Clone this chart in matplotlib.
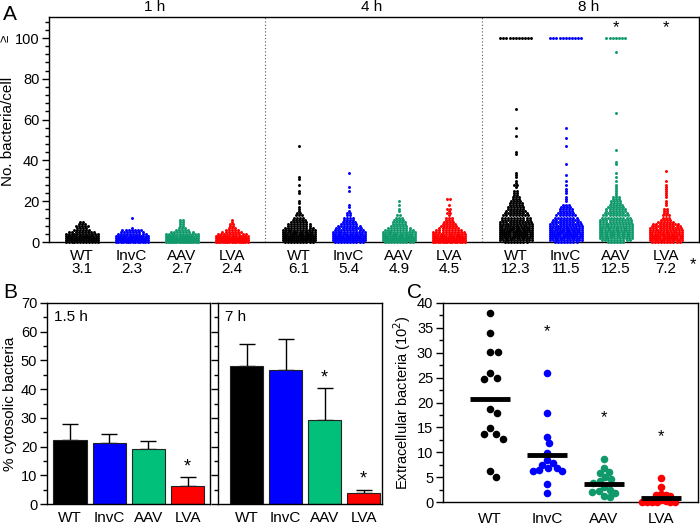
import numpy as np
import matplotlib
matplotlib.use('Agg')
import matplotlib.pyplot as plt
from matplotlib.ticker import MultipleLocator, FixedLocator
import matplotlib.transforms as mtransforms

plt.rcParams['font.family'] = ['Liberation Sans', 'DejaVu Sans']
plt.rcParams['axes.linewidth'] = 1.0

# ---------------- data ----------------
groups = ['WT', 'InvC', 'AAV', 'LVA']

# Panel A: number of cells per bacteria count (index = count 0,1,2,...) + single outliers
counts_1h = [[12, 20, 20, 16, 12, 9, 6, 4, 5, 3, 2],
             [14, 24, 22, 16, 10, 8, 7],
             [16, 26, 20, 16, 12, 8, 5, 3, 2],
             [15, 25, 20, 15, 10, 7, 5, 3, 2]]
extra_1h = [[], [7, 12], [9, 9, 10, 10, 11, 11], [9, 9, 10, 11]]
counts_4h = [[10, 18, 20, 18, 15, 14, 12, 10, 8, 8, 6, 5, 4],
             [10, 18, 18, 16, 14, 12, 10, 9, 8, 6, 5, 4, 4],
             [10, 18, 18, 15, 14, 12, 10, 8, 6, 5, 5, 4, 3],
             [14, 22, 22, 15, 13, 11, 9, 7, 6, 5, 4, 3, 3]]
extra_4h = [[13, 13, 13, 14, 14, 15, 16, 17, 19, 20, 24, 25, 28, 31, 32, 47],
            [13, 13, 14, 14, 15, 17, 18, 25, 27, 34],
            [13, 13, 15, 16, 18, 20],
            [13, 14, 14, 15, 16, 16, 18, 21, 21]]
counts_8h = [[8, 12, 14, 16, 16, 16, 15, 14, 13, 12, 11, 10, 10, 9, 8, 7, 6, 6, 5, 5, 4, 3, 3, 2, 2, 2],
             [8, 12, 14, 16, 16, 15, 14, 13, 12, 11, 10, 9, 8, 7, 6, 5, 5, 4, 3],
             [6, 10, 12, 14, 14, 14, 13, 13, 12, 12, 11, 11, 10, 9, 8, 7, 7, 6, 5, 4, 4, 3, 3],
             [10, 14, 16, 16, 14, 13, 12, 11, 10, 9, 6, 4, 3, 3, 2, 2, 2]]
extra_8h = [[27, 28, 28, 29, 30, 32, 33, 34, 43, 44, 52, 56, 65],
            [20, 21, 22, 24, 25, 26, 28, 30, 33, 38, 47, 51, 56],
            [23, 24, 25, 26, 27, 28, 30, 32, 34, 38, 39, 45, 63, 93],
            [18, 19, 20, 22, 23, 24, 25, 26, 27, 28, 30, 35]]
capped_8h = [11, 11, 7, 0]          # cells with >=100 bacteria
means_1h = [3.1, 2.3, 2.7, 2.4]
means_4h = [6.1, 5.4, 4.9, 4.5]
means_8h = [12.3, 11.5, 12.5, 7.2]
times_a = ['1 h', '4 h', '8 h']

# Panel B: % cytosolic bacteria (mean, upper SD)
pct_15h = [22.4, 21.25, 19.3, 6.4]
err_15h = [5.6, 3.15, 2.6, 3.0]
pct_7h = [48.1, 46.6, 29.1, 3.8]
err_7h = [7.5, 10.9, 11.3, 1.2]
sig_15h = ['', '', '', '*']
sig_7h = ['', '', '*', '*']

# Panel C: extracellular bacteria (10^2)
c_wt = [38.0, 34.0, 30.1, 30.1, 25.9, 24.9, 24.7, 18.7, 17.9, 14.9, 13.7, 13.7, 12.7, 6.2, 5.0]
c_invc = [25.9, 17.9, 13.1, 11.9, 9.9, 8.4, 7.8, 7.5, 6.8, 6.8, 6.35, 6.3, 6.15, 3.7, 1.8]
c_aav = [8.6, 6.8, 6.0, 5.8, 5.0, 4.7, 4.2, 3.8, 3.0, 2.5, 2.2, 2.0, 1.8, 1.3, 1.0]
c_lva = [4.8, 3.0, 1.6, 1.5, 1.4, 1.3, 0.5, 0.3, 0.0, 0.0, 0.0, 0.0, 0.0, 0.0]
c_means = [20.8, 9.5, 3.7, 0.8]
sig_c = ['', '*', '*', '*']

colors_a = ['#000000', '#0000ff', '#109a6c', '#ff0000']
colors_b = ['#000000', '#0000ff', '#00c07a', '#ff0000']

# ---------------- figure ----------------
fig = plt.figure(figsize=(7, 5.25), dpi=100)

# ---- Panel A ----
axA = fig.add_axes([49/700, 1-242/525, 650/700, 225/525])
step_base = [0.0, 4.34, 8.68]
axA.set_xlim(-0.654, 12.346)
axA.set_ylim(0, 110.3)

all_counts = [counts_1h, counts_4h, counts_8h]
all_extra = [extra_1h, extra_4h, extra_8h]
all_capped = [[0, 0, 0, 0], [0, 0, 0, 0], capped_8h]
all_means = [means_1h, means_4h, means_8h]

xt, xl = [], []
for t in range(3):
    for g in range(4):
        xc = step_base[t] + g
        vals = {}
        for v, c in enumerate(all_counts[t][g]):
            vals[v] = vals.get(v, 0) + c
        for v in all_extra[t][g]:
            vals[v] = vals.get(v, 0) + 1
        if all_capped[t][g]:
            vals[100] = all_capped[t][g]
        xs, ys = [], []
        for v, c in vals.items():
            if c == 0:
                continue
            sp = min(0.062, 0.64 / (c - 1)) if c > 1 else 0
            offs = (np.arange(c) - (c - 1) / 2) * sp
            xs.extend(xc + offs)
            ys.extend([v] * c)
        axA.scatter(xs, ys, s=4.5, color=colors_a[g], linewidths=0, zorder=3, clip_on=False)
        xt.append(xc)
        xl.append(f"{groups[g]}\n{all_means[t][g]:.1f}")
    axA.text(step_base[t] + 1.45, 1.045, times_a[t], transform=axA.get_xaxis_transform(),
             ha='center', va='center', fontsize=11)

for sep in [(3 + step_base[1]) / 2, (3 + step_base[1] + step_base[2]) / 2]:
    axA.axvline(sep, color='#555555', ls=(0, (1, 2)), lw=0.8)

axA.set_xticks(xt)
axA.set_xticklabels(xl, fontsize=11, linespacing=0.95)
axA.tick_params(axis='x', length=0, pad=5)
axA.yaxis.set_major_locator(FixedLocator([0, 20, 40, 60, 80, 100]))
axA.set_yticklabels(['0', '20', '40', '60', '80', '100'], fontsize=10.5)
axA.yaxis.set_minor_locator(FixedLocator([v for v in range(4, 110, 4) if v % 20 != 0]))
axA.tick_params(axis='y', which='major', length=5, width=1, pad=2)
axA.tick_params(axis='y', which='minor', length=3, width=1)
axA.text(-0.067, 100, '≥', transform=mtransforms.blended_transform_factory(axA.transAxes, axA.transData),
         rotation=90, ha='center', va='center', fontsize=9.5)
axA.set_ylabel('No. bacteria/cell', fontsize=11)
axA.yaxis.set_label_coords(-0.052, 0.49)
# significance
axA.text(step_base[2] + 2, 105, '*', ha='center', va='center', fontsize=12)
axA.text(step_base[2] + 3, 105, '*', ha='center', va='center', fontsize=12)
axA.text(step_base[2] + 3.55, -0.1, '*', transform=mtransforms.blended_transform_factory(axA.transData, axA.transAxes),
         ha='center', va='center', fontsize=12)

# ---- Panel B ----
axB1 = fig.add_axes([47/700, 1-504/525, 163/700, 201/525])
axB2 = fig.add_axes([218/700, 1-504/525, 164/700, 201/525])
xb = np.arange(4)
for ax, vals, errs, sigs, lab, xlim in [(axB1, pct_15h, err_15h, sig_15h, '1.5 h', (-0.585, 3.57)),
                                        (axB2, pct_7h, err_7h, sig_7h, '7 h', (-0.73, 3.47))]:
    ax.bar(xb, vals, width=0.85, color=colors_b, edgecolor='#222222', linewidth=0.8, zorder=2)
    ax.errorbar(xb, vals, yerr=[np.zeros(4), errs], fmt='none', ecolor='black',
                elinewidth=1, capsize=6, capthick=1, zorder=1)
    for i, s in enumerate(sigs):
        if s:
            ax.text(xb[i], vals[i] + errs[i] + 3.6, s, ha='center', va='center', fontsize=13)
    ax.set_xlim(*xlim)
    ax.set_ylim(0, 70)
    ax.set_xticks(xb)
    ax.set_xticklabels(groups, fontsize=11)
    ax.tick_params(axis='x', length=0, pad=5)
    ax.yaxis.set_major_locator(MultipleLocator(10))
    ax.yaxis.set_minor_locator(MultipleLocator(5))
    ax.tick_params(axis='y', which='major', length=5, width=1, labelsize=10.5, pad=2)
    ax.tick_params(axis='y', which='minor', length=3, width=1)
    ax.text(0.04, 0.965, lab, transform=ax.transAxes, ha='left', va='top', fontsize=11)
axB2.tick_params(axis='y', labelleft=False)
axB1.set_ylabel('% cytosolic bacteria', fontsize=11, labelpad=3)

# ---- Panel C ----
axC = fig.add_axes([443/700, 1-502/525, 255/700, 199/525])
axC.set_xlim(-0.82, 3.65)
axC.set_ylim(0, 40)
swarm_gap = [8.5, 6.5, 6.5, 4.8]   # collision distance in pixels per group (layout)
trans = axC.transData
for g, vals in enumerate([c_wt, c_invc, c_aav, c_lva]):
    vals = np.asarray(vals, float)
    diam = swarm_gap[g]
    disp = trans.transform(np.column_stack([np.full(len(vals), g), vals]))
    placed = []
    for i in np.argsort(-vals, kind='stable'):
        x0, y0 = disp[i]
        cands = [x0]
        for px, py in placed:
            dy = abs(py - y0)
            if dy < diam:
                dx = np.sqrt(diam**2 - dy**2)
                cands += [px + dx + 0.01, px - dx - 0.01]
        cands.sort(key=lambda c: abs(c - x0))
        for c in cands:
            if all((c - px)**2 + (y0 - py)**2 >= diam**2 - 1e-6 for px, py in placed):
                break
        placed.append((c, y0))
    dat = trans.inverted().transform(np.array(placed))
    axC.scatter(dat[:, 0], dat[:, 1], s=30, color=colors_a[g], linewidths=0, zorder=3, clip_on=False)
    axC.hlines(c_means[g], g - 0.35, g + 0.35, color='black', lw=3.5, zorder=4)
    if sig_c[g]:
        y_star = max(vals) + 8.3
        axC.text(g, y_star, sig_c[g], ha='center', va='center', fontsize=12)
axC.set_xticks(range(4))
axC.set_xticklabels(groups, fontsize=11)
axC.tick_params(axis='x', length=0, pad=7)
axC.yaxis.set_major_locator(MultipleLocator(5))
axC.yaxis.set_minor_locator(MultipleLocator(2.5))
axC.tick_params(axis='y', which='major', length=5, width=1, labelsize=10.5, pad=2)
axC.tick_params(axis='y', which='minor', length=3, width=1)
axC.set_ylabel('Extracellular bacteria (10$^{2}$)', fontsize=10.5, labelpad=3)

# panel letters
fig.text(0.004, 0.973, 'A', fontsize=15, ha='left', va='center')
fig.text(0.004, 0.443, 'B', fontsize=15, ha='left', va='center')
fig.text(0.581, 0.443, 'C', fontsize=15, ha='left', va='center')

fig.savefig('out.png', dpi=100)
